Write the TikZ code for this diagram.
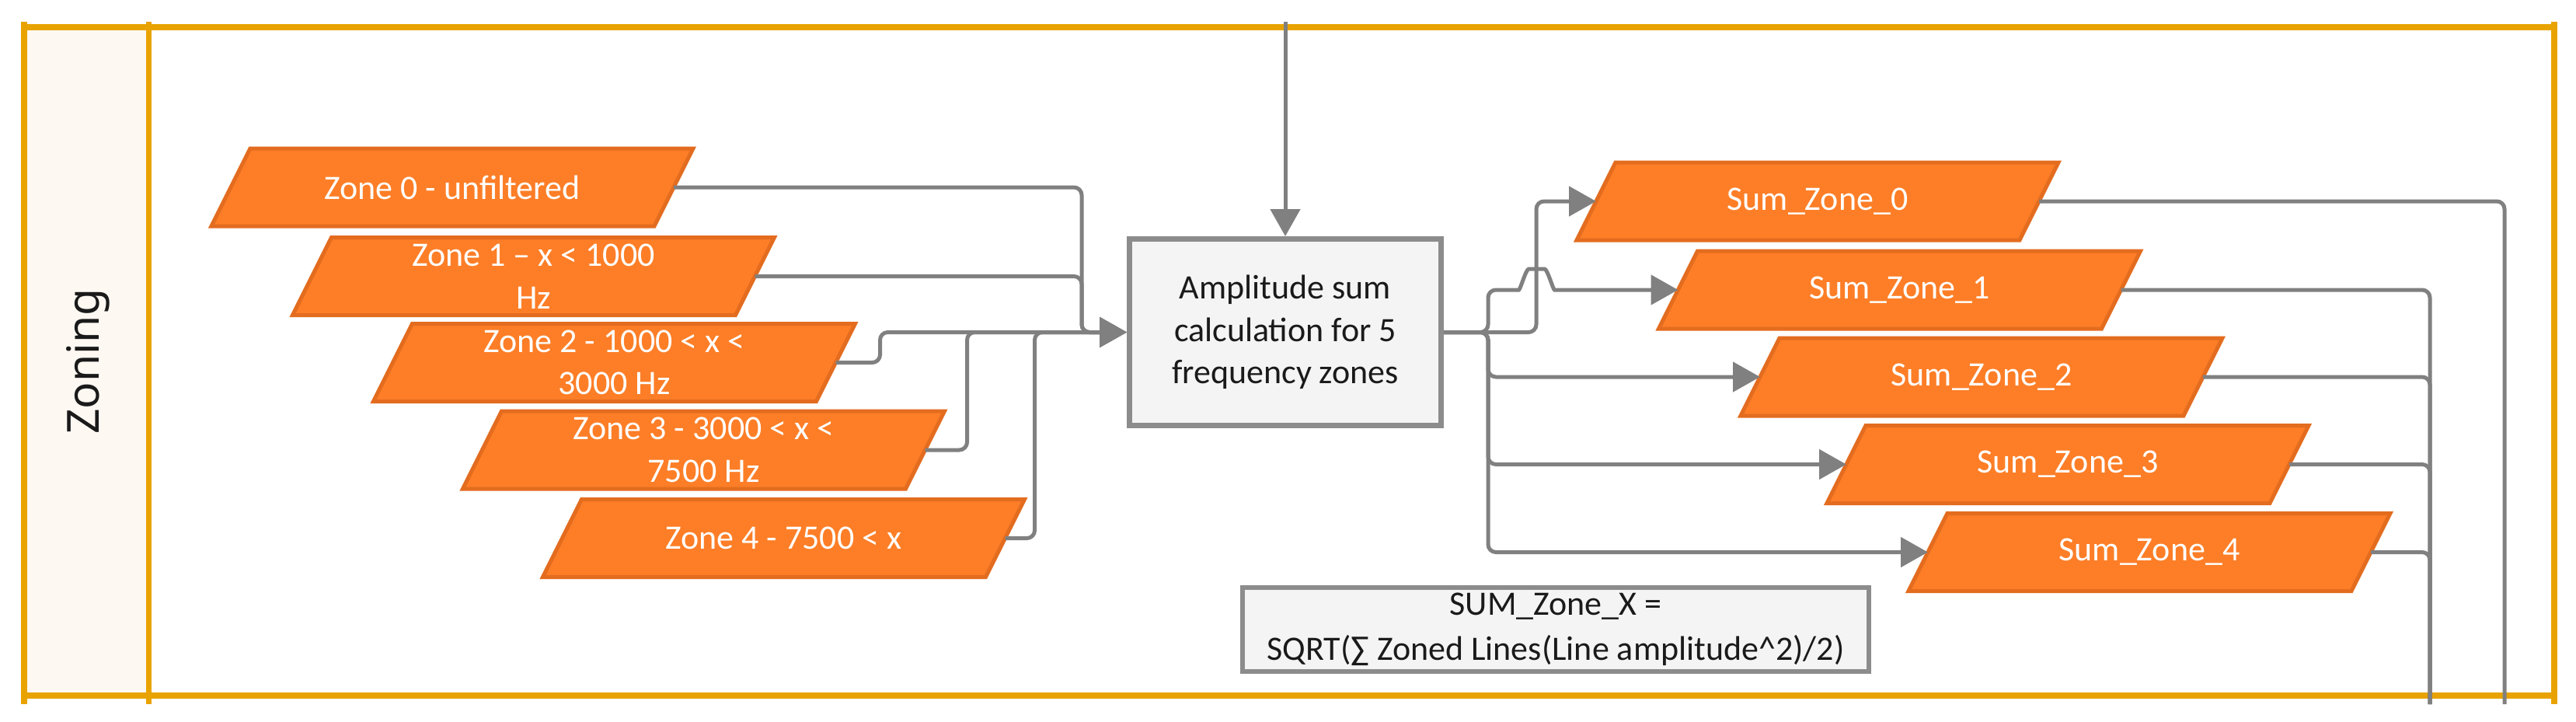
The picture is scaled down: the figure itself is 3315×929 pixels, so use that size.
\documentclass[tikz,border=0pt]{standalone}
\usepackage{fontspec}
\setmainfont{Carlito}
\newfontfamily\zonfont{Noto Sans}
\usetikzlibrary{arrows.meta,calc}
\definecolor{framec}{HTML}{E8A300}
\definecolor{lanefill}{HTML}{FEF8F2}
\definecolor{linegray}{HTML}{808080}
\definecolor{boxborder}{HTML}{8C8C8C}
\definecolor{boxfill}{HTML}{F4F4F4}
\definecolor{porange}{HTML}{FD7E27}
\definecolor{pborder}{HTML}{E36C1F}
\definecolor{textc}{HTML}{1A1A1A}
\newcommand{\mypgram}[4]{%
  \draw[pshape] (#2-310,#3+50) -- (#2-260,#3-50) -- (#2+310,#3-50) -- (#2+260,#3+50) -- cycle;
  \node[ptext] (#1) at (#2,#3) {#4};}
\begin{document}
\begin{tikzpicture}[x=1pt,y=-1pt,
  ptext/.style={minimum width=570pt,minimum height=100pt,inner sep=0pt,outer sep=0pt,text=white,align=center,font=\fontsize{44}{54.5}\selectfont},
  pshape/.style={fill=porange,draw=pborder,line width=5pt,line join=miter},
  conn/.style={draw=linegray,line width=5pt,rounded corners=10pt},
  arr/.style={-{Triangle[length=35pt,width=38pt]}},
  procbox/.style={draw=boxborder,fill=boxfill,line width=7pt,minimum width=401pt,minimum height=240pt,inner sep=0pt,align=center,text=textc,font=\fontsize{44}{54.5}\selectfont},
  notebox/.style={draw=boxborder,fill=boxfill,line width=6pt,minimum width=806pt,minimum height=108pt,inner sep=0pt,align=center,text=textc,font=\fontsize{44}{58}\selectfont},
  lanelabel/.style={rotate=90,text=textc,font=\zonfont\fontsize{57}{60}\selectfont}
]
\useasboundingbox (0,0) rectangle (3315,929);
% swimlane
\fill[lanefill] (31,35) rectangle (191,895);
\draw[framec,line width=8pt] (27,35) -- (3291,35);
\draw[framec,line width=8pt] (27,895) -- (3291,895);
\draw[framec,line width=8pt] (31,28) -- (31,906);
\draw[framec,line width=8pt] (3287,28) -- (3287,906);
\draw[framec,line width=7pt] (191,28) -- (191,906);
\node[lanelabel] (lane) at (113,465) {Zoning};
% inputs
\mypgram{z0}{582}{241}{Zone 0 - unfiltered}
\mypgram{z1}{686.5}{355.5}{Zone 1 – x < 1000\\Hz}
\mypgram{z2}{790.5}{466.5}{Zone 2 - 1000 < x <\\3000 Hz}
\mypgram{z3}{905.5}{579}{Zone 3 - 3000 < x <\\7500 Hz}
\mypgram{z4}{1008.5}{692.5}{Zone 4 - 7500 < x}
% process
\node[procbox] (box) at (1654,427.5) {Amplitude sum\\calculation for 5\\frequency zones};
\node[notebox] (note) at (2002,810) {SUM\_Zone\_X =\\SQRT(∑ Zoned Lines(Line amplitude\textasciicircum 2)/2)};
% outputs
\mypgram{s0}{2339}{259}{Sum\_Zone\_0}
\mypgram{s1}{2444.5}{373}{Sum\_Zone\_1}
\mypgram{s2}{2550}{485}{Sum\_Zone\_2}
\mypgram{s3}{2661}{597.5}{Sum\_Zone\_3}
\mypgram{s4}{2766}{710.5}{Sum\_Zone\_4}
% connectors in
\coordinate (topin) at (1654,28);
\draw[conn,arr] (topin) -- (box.north);
\draw[conn,arr] (z0.east) -| ([xshift=-58pt]box.west) -- (box.west);
\draw[conn,arr] (z1.east) -| ([xshift=-58pt]box.west) -- (box.west);
\draw[conn,arr] (z2.east) -- ++(57,0) |- (box.west);
\draw[conn,arr] (z3.east) -- ++(54,0) |- (box.west);
\draw[conn,arr] (z4.east) -- ++(38,0) |- (box.west);
% connectors out
\draw[conn,arr] (box.east) -| ([xshift=-77pt]s0.west) -- (s0.west);
\draw[conn,arr] (box.east) -- ++(57,0) |- ($(s1.west)+(-215,0)$)
  .. controls +(12,0) and +(-14,0) .. ($(s1.west)+(-182,-27)$)
  .. controls +(14,0) and +(-12,0) .. ($(s1.west)+(-149,0)$) -- (s1.west);
\draw[conn,arr] (box.east) -- ++(57,0) |- (s2.west);
\draw[conn,arr] (box.east) -- ++(57,0) |- (s3.west);
\draw[conn,arr] (box.east) -- ++(57,0) |- (s4.west);
% right side
\coordinate (out0) at (3223,906);
\coordinate (out1) at (3127,906);
\draw[conn] (s0.east) -| (out0);
\draw[conn] (s1.east) -| (out1);
\draw[conn] (s2.east) -| (out1);
\draw[conn] (s3.east) -| (out1);
\draw[conn] (s4.east) -| (out1);
\end{tikzpicture}
\end{document}
